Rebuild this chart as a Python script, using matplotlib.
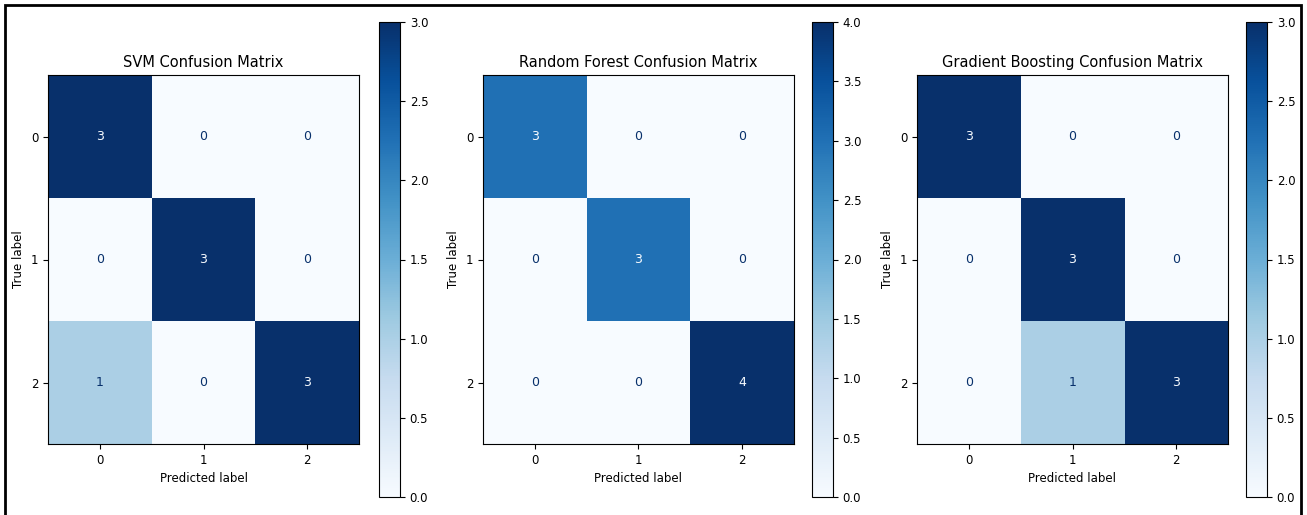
import numpy as np
import matplotlib
matplotlib.use("Agg")
import matplotlib.pyplot as plt
from matplotlib.patches import Rectangle

labels = ["0", "1", "2"]
titles = ["SVM Confusion Matrix", "Random Forest Confusion Matrix",
          "Gradient Boosting Confusion Matrix"]
svm_cm = [[3, 0, 0], [0, 3, 0], [1, 0, 3]]
rf_cm = [[3, 0, 0], [0, 3, 0], [0, 0, 4]]
gb_cm = [[3, 0, 0], [0, 3, 0], [0, 1, 3]]
matrices = [svm_cm, rf_cm, gb_cm]

W, H = 1307, 515
fig = plt.figure(figsize=(W / 100, H / 100), dpi=100)

# pixel boxes (left, top, right, bottom) for the matrix and colorbar
ax_boxes = [(48, 75, 359, 444), (483, 75, 794, 444), (917, 75, 1228, 444)]
cb_boxes = [(379, 22, 400, 497), (812, 22, 833, 497), (1246, 22, 1267, 497)]

def to_fig(box):
    l, t, r, b = box
    return [l / W, 1 - b / H, (r - l) / W, (b - t) / H]

cmap = plt.get_cmap("Blues")
for title, cm, axb, cbb in zip(titles, matrices, ax_boxes, cb_boxes):
    cm = np.array(cm)
    ax = fig.add_axes(to_fig(axb))
    cax = fig.add_axes(to_fig(cbb))
    im = ax.imshow(cm, cmap=cmap, aspect="auto", interpolation="nearest",
                   vmin=0, vmax=cm.max())
    thresh = cm.max() / 2.0
    for i in range(cm.shape[0]):
        for j in range(cm.shape[1]):
            color = cmap(0.0) if cm[i, j] > thresh else cmap(1.0)
            ax.text(j, i, str(cm[i, j]), ha="center", va="center",
                    color=color, fontsize=9)
    ax.set_xticks(range(len(labels)), labels, fontsize=8.5)
    ax.set_yticks(range(len(labels)), labels, fontsize=8.5)
    ax.set_xlabel("Predicted label", fontsize=8.5)
    ax.set_ylabel("True label", fontsize=8.5)
    ax.set_title(title, fontsize=10.5)
    cb = fig.colorbar(im, cax=cax)
    cb.ax.tick_params(labelsize=8.5)

# black frame around the figure
fig.patches.append(Rectangle((5 / W, -0.01), (1301 - 5) / W, 1 - 5 / H + 0.01,
                             transform=fig.transFigure, fill=False,
                             edgecolor="black", linewidth=2))

fig.savefig("out.png", dpi=100)
